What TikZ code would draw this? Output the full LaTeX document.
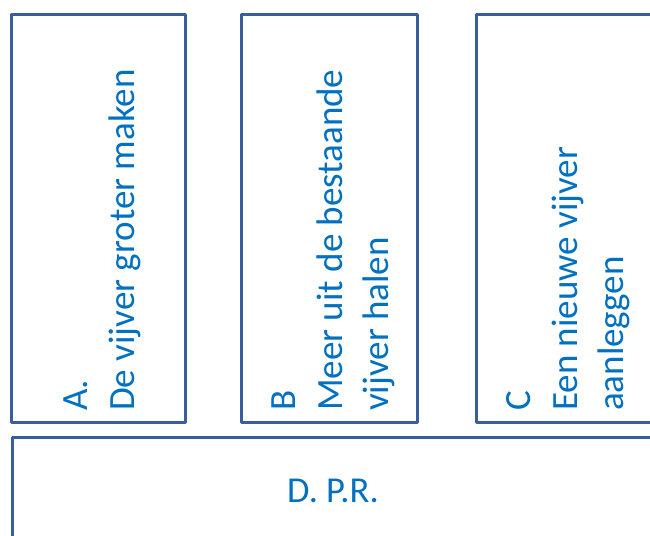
\documentclass[tikz,border=0pt]{standalone}
\usepackage{fontspec}
\setmainfont{Carlito}
\definecolor{boxline}{HTML}{3A5D9C}
\definecolor{labeltext}{HTML}{0070C0}
\tikzset{
  panel/.style={draw=boxline, line width=3pt, line join=round},
  vlabel/.style={rotate=90, anchor=base west, inner sep=0pt, text=labeltext,
    font=\fontsize{37pt}{44pt}\selectfont},
  hlabel/.style={anchor=base west, inner sep=0pt, text=labeltext,
    font=\fontsize{36.5pt}{44pt}\selectfont}
}
\begin{document}
\begin{tikzpicture}[x=1pt,y=-1pt]
\useasboundingbox (0,0) rectangle (650,535);
\clip (0,0) rectangle (650,535);
\fill[white] (0,0) rectangle (650,535);
% three option panels
\draw[panel] (11,14.5) rectangle (185,422);
\draw[panel] (241,14.5) rectangle (417,422);
\draw[panel] (476,14.5) rectangle (652,422);
% wide panel underneath
\draw[panel] (12,437) rectangle (700,620);
% panel A
\node[vlabel] (a1) at (87,411) {A.};
\node[vlabel] (a2) at (134,411) {De vijver groter maken};
% panel B
\node[vlabel] (b1) at (295,411) {B};
\node[vlabel] (b2) at (342,411) {Meer uit de bestaande};
\node[vlabel] (b3) at (388,411) {vijver halen};
% panel C
\node[vlabel] (c1) at (530,411) {C};
\node[vlabel] (c2) at (577,411) {Een nieuwe vijver};
\node[vlabel] (c3) at (623,411) {aanleggen};
% panel D
\node[hlabel] (d1) at (287,502) {D. P.R.};
\end{tikzpicture}
\end{document}
